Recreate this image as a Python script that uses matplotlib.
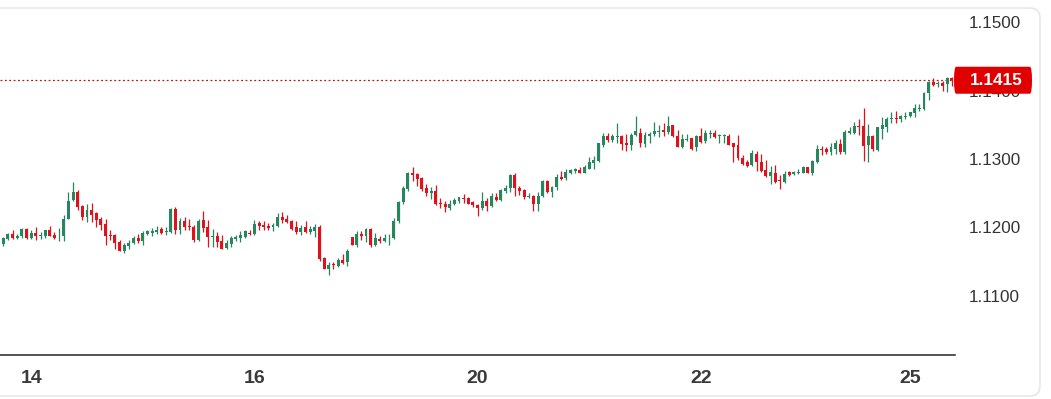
import matplotlib
matplotlib.use("Agg")
import matplotlib.pyplot as plt
import numpy as np
from matplotlib.patches import Rectangle, FancyBboxPatch
from matplotlib.transforms import blended_transform_factory, IdentityTransform

# ---------------- data (hourly OHLC) ----------------
open_ = [1.1176, 1.1183, 1.1190, 1.1184, 1.1187, 1.1198, 1.1184, 1.1192, 1.1188, 1.1188,
         1.1196, 1.1189, 1.1187, 1.1187, 1.1213, 1.1240, 1.1252, 1.1231, 1.1216, 1.1225,
         1.1221, 1.1212, 1.1205, 1.1189, 1.1189, 1.1179, 1.1166, 1.1173, 1.1177, 1.1184,
         1.1181, 1.1190, 1.1192, 1.1194, 1.1198, 1.1193, 1.1193, 1.1227, 1.1196, 1.1209,
         1.1202, 1.1201, 1.1182, 1.1211, 1.1200, 1.1186, 1.1187, 1.1181, 1.1170, 1.1176,
         1.1183, 1.1184, 1.1186, 1.1192, 1.1190, 1.1206, 1.1204, 1.1202, 1.1200, 1.1202,
         1.1215, 1.1212, 1.1210, 1.1200, 1.1194, 1.1200, 1.1194, 1.1195, 1.1201, 1.1155,
         1.1140, 1.1146, 1.1144, 1.1152, 1.1149, 1.1186, 1.1175, 1.1191, 1.1188, 1.1198,
         1.1174, 1.1183, 1.1181, 1.1184, 1.1184, 1.1209, 1.1237, 1.1256, 1.1280, 1.1278,
         1.1272, 1.1257, 1.1251, 1.1253, 1.1236, 1.1235, 1.1229, 1.1234, 1.1239, 1.1243,
         1.1243, 1.1237, 1.1233, 1.1228, 1.1239, 1.1232, 1.1245, 1.1240, 1.1254, 1.1257,
         1.1277, 1.1257, 1.1255, 1.1245, 1.1246, 1.1234, 1.1246, 1.1268, 1.1252, 1.1259,
         1.1274, 1.1272, 1.1280, 1.1283, 1.1284, 1.1280, 1.1286, 1.1294, 1.1297, 1.1320,
         1.1334, 1.1328, 1.1332, 1.1333, 1.1324, 1.1321, 1.1335, 1.1338, 1.1322, 1.1333,
         1.1336, 1.1340, 1.1342, 1.1339, 1.1349, 1.1334, 1.1318, 1.1328, 1.1331, 1.1317,
         1.1333, 1.1327, 1.1337, 1.1338, 1.1334, 1.1334, 1.1334, 1.1323, 1.1320, 1.1302,
         1.1295, 1.1291, 1.1307, 1.1295, 1.1284, 1.1275, 1.1280, 1.1270, 1.1267, 1.1281,
         1.1278, 1.1280, 1.1280, 1.1288, 1.1280, 1.1296, 1.1315, 1.1315, 1.1310, 1.1315,
         1.1322, 1.1310, 1.1338, 1.1338, 1.1348, 1.1348, 1.1320, 1.1334, 1.1313, 1.1344,
         1.1347, 1.1358, 1.1360, 1.1358, 1.1362, 1.1363, 1.1367, 1.1373, 1.1373, 1.1396,
         1.1412, 1.1409, 1.1411, 1.1409, 1.1418]
high = [1.1186, 1.1192, 1.1196, 1.1190, 1.1199, 1.1199, 1.1196, 1.1200, 1.1194, 1.1197,
        1.1202, 1.1194, 1.1199, 1.1218, 1.1252, 1.1266, 1.1255, 1.1233, 1.1235, 1.1236,
        1.1223, 1.1216, 1.1213, 1.1196, 1.1191, 1.1182, 1.1178, 1.1182, 1.1187, 1.1190,
        1.1195, 1.1197, 1.1199, 1.1202, 1.1201, 1.1201, 1.1229, 1.1230, 1.1214, 1.1216,
        1.1212, 1.1204, 1.1213, 1.1224, 1.1211, 1.1198, 1.1194, 1.1189, 1.1182, 1.1187,
        1.1189, 1.1195, 1.1196, 1.1196, 1.1211, 1.1209, 1.1209, 1.1206, 1.1206, 1.1221,
        1.1222, 1.1218, 1.1211, 1.1209, 1.1204, 1.1209, 1.1202, 1.1205, 1.1204, 1.1157,
        1.1149, 1.1149, 1.1156, 1.1161, 1.1168, 1.1186, 1.1195, 1.1195, 1.1199, 1.1199,
        1.1192, 1.1187, 1.1191, 1.1190, 1.1214, 1.1239, 1.1261, 1.1281, 1.1288, 1.1280,
        1.1273, 1.1264, 1.1259, 1.1262, 1.1243, 1.1239, 1.1240, 1.1243, 1.1245, 1.1249,
        1.1244, 1.1238, 1.1235, 1.1252, 1.1243, 1.1250, 1.1250, 1.1256, 1.1262, 1.1278,
        1.1279, 1.1260, 1.1256, 1.1250, 1.1247, 1.1252, 1.1270, 1.1270, 1.1261, 1.1278,
        1.1283, 1.1285, 1.1286, 1.1287, 1.1289, 1.1291, 1.1303, 1.1304, 1.1324, 1.1338,
        1.1338, 1.1337, 1.1353, 1.1335, 1.1337, 1.1338, 1.1363, 1.1345, 1.1340, 1.1340,
        1.1354, 1.1350, 1.1352, 1.1363, 1.1350, 1.1342, 1.1336, 1.1336, 1.1331, 1.1335,
        1.1345, 1.1342, 1.1343, 1.1343, 1.1337, 1.1337, 1.1337, 1.1324, 1.1335, 1.1306,
        1.1298, 1.1313, 1.1311, 1.1308, 1.1298, 1.1290, 1.1291, 1.1276, 1.1282, 1.1283,
        1.1283, 1.1286, 1.1290, 1.1289, 1.1299, 1.1320, 1.1319, 1.1317, 1.1323, 1.1328,
        1.1329, 1.1342, 1.1346, 1.1354, 1.1359, 1.1375, 1.1351, 1.1335, 1.1347, 1.1361,
        1.1362, 1.1369, 1.1370, 1.1364, 1.1368, 1.1369, 1.1381, 1.1381, 1.1398, 1.1414,
        1.1418, 1.1414, 1.1414, 1.1420, 1.1420]
low = [1.1173, 1.1182, 1.1183, 1.1183, 1.1185, 1.1183, 1.1183, 1.1182, 1.1183, 1.1184,
       1.1187, 1.1183, 1.1180, 1.1180, 1.1212, 1.1239, 1.1225, 1.1211, 1.1208, 1.1208,
       1.1201, 1.1196, 1.1174, 1.1182, 1.1169, 1.1165, 1.1163, 1.1169, 1.1176, 1.1178,
       1.1174, 1.1189, 1.1188, 1.1190, 1.1190, 1.1189, 1.1192, 1.1190, 1.1191, 1.1196,
       1.1196, 1.1179, 1.1180, 1.1194, 1.1172, 1.1172, 1.1172, 1.1168, 1.1169, 1.1172,
       1.1181, 1.1179, 1.1184, 1.1189, 1.1189, 1.1197, 1.1196, 1.1197, 1.1195, 1.1200,
       1.1207, 1.1206, 1.1196, 1.1191, 1.1189, 1.1192, 1.1190, 1.1186, 1.1151, 1.1139,
       1.1130, 1.1139, 1.1142, 1.1147, 1.1144, 1.1174, 1.1172, 1.1182, 1.1179, 1.1172,
       1.1173, 1.1178, 1.1179, 1.1175, 1.1183, 1.1206, 1.1235, 1.1254, 1.1268, 1.1260,
       1.1254, 1.1246, 1.1241, 1.1233, 1.1228, 1.1223, 1.1225, 1.1233, 1.1236, 1.1236,
       1.1234, 1.1230, 1.1217, 1.1226, 1.1224, 1.1230, 1.1239, 1.1239, 1.1250, 1.1252,
       1.1246, 1.1247, 1.1242, 1.1243, 1.1224, 1.1224, 1.1245, 1.1251, 1.1245, 1.1255,
       1.1269, 1.1269, 1.1278, 1.1279, 1.1279, 1.1279, 1.1285, 1.1286, 1.1296, 1.1318,
       1.1325, 1.1325, 1.1323, 1.1313, 1.1311, 1.1313, 1.1333, 1.1318, 1.1318, 1.1323,
       1.1333, 1.1332, 1.1333, 1.1337, 1.1332, 1.1317, 1.1316, 1.1327, 1.1313, 1.1311,
       1.1324, 1.1324, 1.1330, 1.1330, 1.1324, 1.1324, 1.1320, 1.1295, 1.1299, 1.1291,
       1.1289, 1.1290, 1.1283, 1.1281, 1.1274, 1.1264, 1.1265, 1.1256, 1.1265, 1.1275,
       1.1277, 1.1278, 1.1279, 1.1279, 1.1276, 1.1294, 1.1306, 1.1308, 1.1306, 1.1308,
       1.1308, 1.1308, 1.1336, 1.1336, 1.1335, 1.1297, 1.1296, 1.1312, 1.1311, 1.1329,
       1.1340, 1.1352, 1.1353, 1.1354, 1.1358, 1.1361, 1.1361, 1.1370, 1.1372, 1.1386,
       1.1406, 1.1405, 1.1400, 1.1398, 1.1406]
close = [1.1184, 1.1190, 1.1185, 1.1188, 1.1198, 1.1184, 1.1192, 1.1188, 1.1189, 1.1196,
         1.1188, 1.1184, 1.1188, 1.1213, 1.1239, 1.1252, 1.1230, 1.1216, 1.1225, 1.1218,
         1.1211, 1.1204, 1.1188, 1.1188, 1.1178, 1.1166, 1.1174, 1.1177, 1.1184, 1.1180,
         1.1192, 1.1195, 1.1195, 1.1197, 1.1192, 1.1194, 1.1227, 1.1196, 1.1209, 1.1201,
         1.1200, 1.1182, 1.1210, 1.1199, 1.1186, 1.1187, 1.1179, 1.1169, 1.1177, 1.1184,
         1.1186, 1.1189, 1.1195, 1.1190, 1.1205, 1.1202, 1.1200, 1.1199, 1.1204, 1.1215,
         1.1211, 1.1208, 1.1198, 1.1194, 1.1199, 1.1194, 1.1198, 1.1201, 1.1154, 1.1140,
         1.1145, 1.1145, 1.1152, 1.1148, 1.1165, 1.1174, 1.1190, 1.1187, 1.1198, 1.1174,
         1.1184, 1.1181, 1.1185, 1.1185, 1.1210, 1.1237, 1.1258, 1.1280, 1.1277, 1.1271,
         1.1256, 1.1251, 1.1253, 1.1234, 1.1235, 1.1230, 1.1235, 1.1240, 1.1244, 1.1241,
         1.1235, 1.1233, 1.1228, 1.1239, 1.1232, 1.1246, 1.1240, 1.1255, 1.1258, 1.1277,
         1.1257, 1.1254, 1.1244, 1.1246, 1.1234, 1.1246, 1.1268, 1.1252, 1.1259, 1.1273,
         1.1271, 1.1281, 1.1284, 1.1285, 1.1280, 1.1288, 1.1295, 1.1299, 1.1323, 1.1334,
         1.1328, 1.1333, 1.1333, 1.1322, 1.1321, 1.1335, 1.1341, 1.1323, 1.1335, 1.1337,
         1.1341, 1.1341, 1.1339, 1.1348, 1.1333, 1.1318, 1.1329, 1.1329, 1.1314, 1.1333,
         1.1325, 1.1338, 1.1338, 1.1332, 1.1335, 1.1335, 1.1321, 1.1318, 1.1301, 1.1293,
         1.1290, 1.1309, 1.1295, 1.1283, 1.1275, 1.1281, 1.1267, 1.1268, 1.1278, 1.1277,
         1.1281, 1.1281, 1.1288, 1.1280, 1.1297, 1.1314, 1.1313, 1.1310, 1.1317, 1.1323,
         1.1310, 1.1340, 1.1341, 1.1348, 1.1347, 1.1319, 1.1334, 1.1314, 1.1346, 1.1349,
         1.1358, 1.1359, 1.1358, 1.1363, 1.1363, 1.1368, 1.1374, 1.1375, 1.1397, 1.1413,
         1.1408, 1.1411, 1.1407, 1.1418, 1.1415]

price_ticks = [1.1100, 1.1200, 1.1300, 1.1400, 1.1500]
date_labels = ["14", "16", "20", "22", "25"]
date_label_candle = [6, 54, 102, 150, 195]

# ---------------- style ----------------
UP = "#26875e"
DOWN = "#e0111b"
W, H = 1051, 399

fig = plt.figure(figsize=(W / 100, H / 100), dpi=100)
fig.patch.set_facecolor("white")

# rounded outer frame
frame = FancyBboxPatch((-30, 3), 1070, 388, boxstyle="round,pad=0,rounding_size=10",
                       transform=IdentityTransform(), fc="none", ec="#e4e4e4", lw=1.0)
fig.patches.append(frame)

ax = fig.add_axes([0, 1 - 355 / H, 955 / W, (355 - 8) / H])
ax.set_facecolor("none")

o = np.array(open_); h = np.array(high); l = np.array(low); c = np.array(close)
x = np.arange(len(c))
up = c >= o
cols = np.where(up, UP, DOWN)

ax.vlines(x, l, h, colors=cols, lw=0.9, zorder=2)
body_lo = np.minimum(o, c)
body_h = np.maximum(np.abs(c - o), 0.00013)
ax.bar(x, body_h, bottom=body_lo, width=0.64, color=cols, edgecolor=cols, lw=0, zorder=3)

# y range: 1.1500 at y=22px, 68.5 px per 0.0100
ppu = 6850.0
ax.set_ylim(1.15 - (355 - 22) / ppu, 1.15 + (22 - 8) / ppu)
ax.set_xlim(-0.71, -0.71 + 955 / 4.65)

# last price line
last = c[-1]
ax.axhline(last, color="#b51a1a", lw=0.9, ls=(0, (1.5, 2.0)), zorder=1)

# axes styling
for s in ["top", "left", "right"]:
    ax.spines[s].set_visible(False)
ax.spines["bottom"].set_color("#222222")
ax.spines["bottom"].set_linewidth(1.1)

ax.yaxis.tick_right()
ax.set_yticks(price_ticks)
ax.set_yticklabels([f"{p:.4f}" for p in price_ticks])
ax.tick_params(axis="y", length=0, pad=10, labelsize=12.3, labelcolor="#333333")
for t in ax.get_yticklabels():
    t.set_fontfamily(["Liberation Sans", "DejaVu Sans"])

ax.set_xticks(date_label_candle)
ax.set_xticklabels(date_labels)
ax.tick_params(axis="x", length=0, pad=11, labelsize=14, labelcolor="#3a3a3a")
for t in ax.get_xticklabels():
    t.set_fontfamily(["Liberation Sans Narrow", "Liberation Sans", "DejaVu Sans"])
    t.set_fontweight("bold")

# price label box on the right axis
bh = 27 / ppu
trans = blended_transform_factory(fig.transFigure, ax.transData)
box = FancyBboxPatch((954 / W, last - bh / 2), 78 / W, bh,
                     boxstyle="round,pad=0,rounding_size=0.002",
                     transform=trans, fc="#e00000", ec="none", clip_on=False, zorder=5)
fig.patches.append(box)
fig.text(996 / W, last, f"{last:.4f}", transform=trans, ha="center", va="center",
         color="white", fontsize=12.3, fontweight="bold",
         family=["Liberation Sans", "DejaVu Sans"], zorder=6)

fig.savefig("out.png", dpi=100, facecolor="white")
